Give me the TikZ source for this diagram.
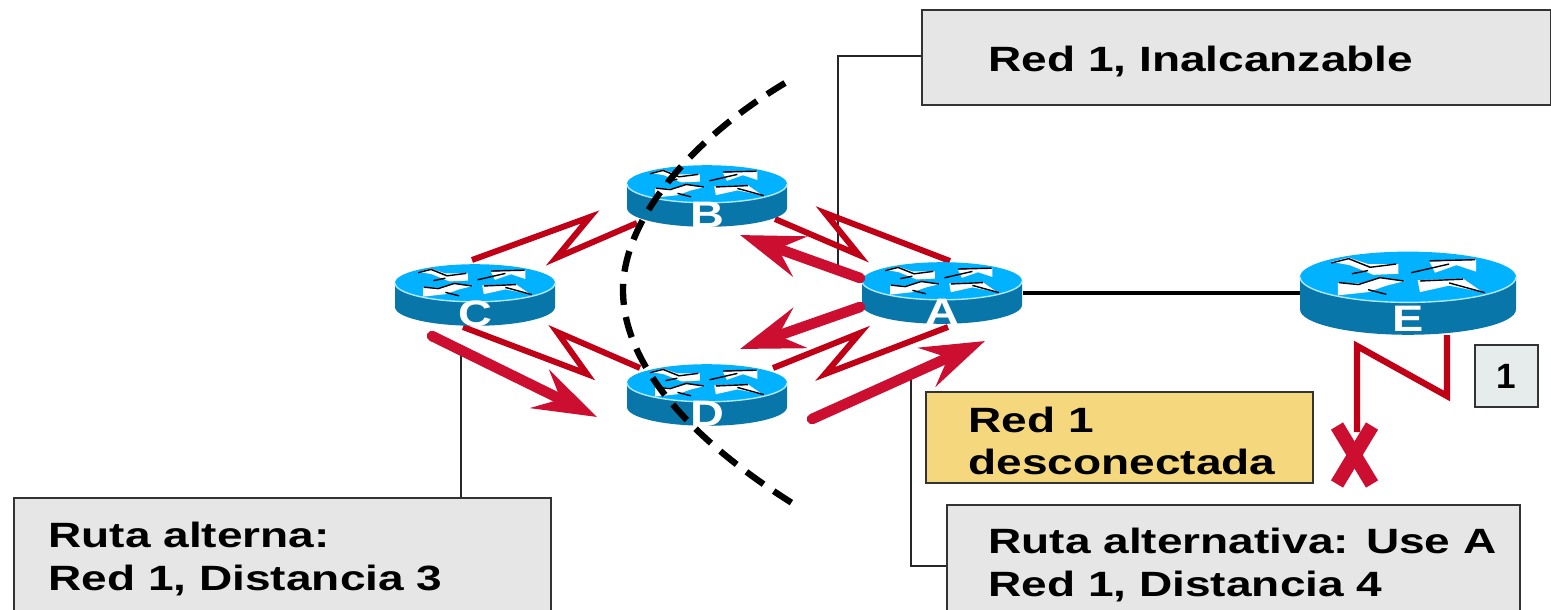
\documentclass[tikz,border=0pt]{standalone}
\usepackage{fontspec}
\setmainfont{Liberation Sans}
\usepackage{tikz}
\usetikzlibrary{arrows.meta}
\definecolor{routertop}{RGB}{0,178,255}
\definecolor{routerside}{RGB}{8,118,168}
\definecolor{linkred}{RGB}{192,0,22}
\definecolor{flowred}{RGB}{204,14,48}
\definecolor{boxgrey}{RGB}{230,230,230}
\definecolor{boxyellow}{RGB}{245,215,125}
\definecolor{boxone}{RGB}{230,235,235}
\tikzset{
	lbl/.style = {font=\bfseries\fontsize{20}{24}\selectfont, xscale=1.31, transform shape, align=left, anchor=west, inner sep=0pt, text=black},
	infobox/.style = {draw=black!80, line width=1.6pt, fill=boxgrey},
	leader/.style = {draw=black!85, line width=1.4pt},
	serial/.style = {draw=linkred, line width=3.4pt},
	flow/.style = {draw=flowred, line width=6pt, line cap=round,
		-{Stealth[length=36pt, width=24pt, inset=13pt]}},
	cutline/.style = {draw=black, line width=3.6pt, dash pattern=on 12pt off 7pt},
}
% name, x, y, half width, letter, letter size
\newcommand{\router}[6]{
	\begin{scope}[shift={(#2,#3)}, x=#4*0.02cm, y=-#4*0.02cm]
		\fill [routerside] (-1,0) -- (-1,0.3) arc [start angle=180, end angle=0, x radius=1, y radius=0.235] -- (1,0) -- cycle;
		\fill [routertop] (0,0) ellipse [x radius=1, y radius=0.235];
		\draw [white!70!routertop, line width=0.8pt] (-1,0) arc [start angle=180, end angle=0, x radius=1, y radius=0.235];
		\fill [white] (-.71,-.14) -- (-.55,-.18) -- (-.37,-.12) -- (-.09,-.12) -- (-.09,-.03) -- (-.32,-.02) -- (-.54,-.11) -- cycle;
		\fill [white] (-.65,.055) -- (-.45,.06) -- (-.26,.006) -- (-.03,.037) -- (-.2,.08) -- (-.37,.14) -- (-.65,.17) -- cycle;
		\fill [white] (.2,-.14) -- (.63,-.16) -- (.63,-.05) -- (.45,-.11) -- (.25,-.04) -- cycle;
		\fill [white] (.09,.03) -- (.51,.015) -- (.69,.14) -- (.38,.08) -- (.11,.14) -- cycle;
		\draw [black, line width=0.8pt] (-.71,-.13) -- (-.55,-.17) -- (-.35,-.09) -- (-.11,-.12);
		\draw [black, line width=0.8pt] (-.52,-.03) -- (-.37,-.06);
		\draw [black, line width=0.8pt] (-.64,.052) -- (-.46,.07) -- (-.26,.006) -- (-.04,.037);
		\draw [black, line width=0.8pt] (-.37,.117) -- (-.2,.16);
		\draw [black, line width=0.8pt] (.2,-.15) -- (.62,-.16);
		\draw [black, line width=0.8pt] (.03,-.04) -- (.38,-.12);
		\draw [black, line width=0.8pt] (.11,.037) -- (.51,.02);
		\draw [black, line width=0.8pt] (.38,.055) -- (.71,.145);
		\node [font=\bfseries\fontsize{#6}{#6}\selectfont, text=white, xscale=1.27, transform shape, inner sep=0pt] (#1) at (0,0.39) {#5};
	\end{scope}
}
\begin{document}
\begin{tikzpicture}[x=0.02cm, y=-0.02cm]
	\useasboundingbox (0,0) rectangle (1551,609);
	\fill [white] (0,0) rectangle (1551,609);

	% leader lines behind everything
	\coordinate (rootTop) at (838,265);
	\coordinate (kneeTop) at (838,56);
	\coordinate (rootLeft) at (461,350);
	\coordinate (rootRight) at (911,380);
	\coordinate (kneeRight) at (911,566);

	\node [infobox, minimum width=629*0.02cm, minimum height=95*0.02cm, inner sep=0pt] (unreach) at (1236.5,57.5) {};
	\node [infobox, minimum width=537*0.02cm, minimum height=130*0.02cm, inner sep=0pt] (altC) at (282.5,563) {};
	\node [infobox, minimum width=573*0.02cm, minimum height=130*0.02cm, inner sep=0pt] (altE) at (1233.5,570) {};
	\draw [leader] (rootTop) -- (kneeTop) -- (unreach.west |- kneeTop);
	\draw [leader] (rootLeft) -- (rootLeft |- altC.north);
	\draw [leader] (rootRight) -- (kneeRight) -- (altE.west |- kneeRight);

	\node [lbl] (unreachText) at (988,61) {Red 1, Inalcanzable};
	\node [lbl] (altCText) at (48,559) {Ruta alterna:\\Red 1, Distancia 3};
	\node [lbl] (altEText) at (988,565) {Ruta alternativa: Use A\\Red 1, Distancia 4};

	% serial links
	\coordinate (cb1) at (472,260);
	\coordinate (cb2) at (590,217);
	\coordinate (cb3) at (556,258);
	\coordinate (cb4) at (637,223);
	\draw [serial] (cb1) -- (cb2) -- (cb3) -- (cb4);
	\coordinate (cd1) at (463,327);
	\coordinate (cd2) at (587,374);
	\coordinate (cd3) at (557,332);
	\coordinate (cd4) at (640,368);
	\draw [serial] (cd1) -- (cd2) -- (cd3) -- (cd4);
	\coordinate (ba1) at (775,219);
	\coordinate (ba2) at (859,255);
	\coordinate (ba3) at (825,213);
	\coordinate (ba4) at (950,261);
	\draw [serial] (ba1) -- (ba2) -- (ba3) -- (ba4);
	\coordinate (da1) at (773,368);
	\coordinate (da2) at (860,333);
	\coordinate (da3) at (825,374);
	\coordinate (da4) at (948,327);
	\draw [serial] (da1) -- (da2) -- (da3) -- (da4);

	\router{routerB}{707}{184}{80}{B}{21}
	\router{routerC}{475}{283}{80}{C}{21}
	\router{routerA}{942}{281}{80}{A}{21}
	\router{routerD}{707}{383}{80}{D}{21}
	\router{routerE}{1408}{277}{108}{E}{21}

	\coordinate (portA) at (1023,293);
	\coordinate (portE) at (1300,293);
	\draw [black, line width=2.2pt] (portA) -- (portE);

	% update flows
	\coordinate (flowC) at (432,336);
	\coordinate (flowCtip) at (597,417);
	\draw [flow] (flowC) -- (flowCtip);
	\coordinate (flowB) at (860,278);
	\coordinate (flowBtip) at (740,235);
	\draw [flow] (flowB) -- (flowBtip);
	\coordinate (flowD) at (860,307);
	\coordinate (flowDtip) at (740,349);
	\draw [flow] (flowD) -- (flowDtip);
	\coordinate (flowA) at (812,419);
	\coordinate (flowAtip) at (985,341);
	\draw [flow] (flowA) -- (flowAtip);

	% split horizon line
	\coordinate (cutTop) at (785,83);
	\coordinate (cutMid) at (623,290);
	\coordinate (cutEnd) at (792,503);
	\draw [cutline] (cutTop) .. controls (690,140) and (623,220) .. (cutMid) .. controls (623,370) and (700,445) .. (cutEnd);

	% failed link on E
	\coordinate (ee1) at (1447,335);
	\coordinate (ee2) at (1447,396);
	\coordinate (ee3) at (1357,346);
	\coordinate (ee4) at (1357,432);
	\draw [serial, line width=3.6pt] (ee1) -- (ee2) -- (ee3) -- (ee4);
	\coordinate (x1) at (1337,426);
	\coordinate (x2) at (1372,484);
	\coordinate (x3) at (1372,426);
	\coordinate (x4) at (1337,484);
	\draw [flowred, line width=8pt] (x1) -- (x2);
	\draw [flowred, line width=8pt] (x3) -- (x4);

	\node [draw=black!80, line width=1.4pt, fill=boxyellow, minimum width=387*0.02cm, minimum height=91*0.02cm, inner sep=0pt] (down) at (1119.5,437.5) {};
	\node [lbl] (downText) at (968,441) {Red 1\\desconectada};
	\node [draw=black!80, line width=1.4pt, fill=boxone, minimum width=63*0.02cm, minimum height=62*0.02cm, font=\bfseries\fontsize{20}{24}\selectfont, inner sep=0pt] (one) at (1506.5,376) {1};
\end{tikzpicture}
\end{document}
